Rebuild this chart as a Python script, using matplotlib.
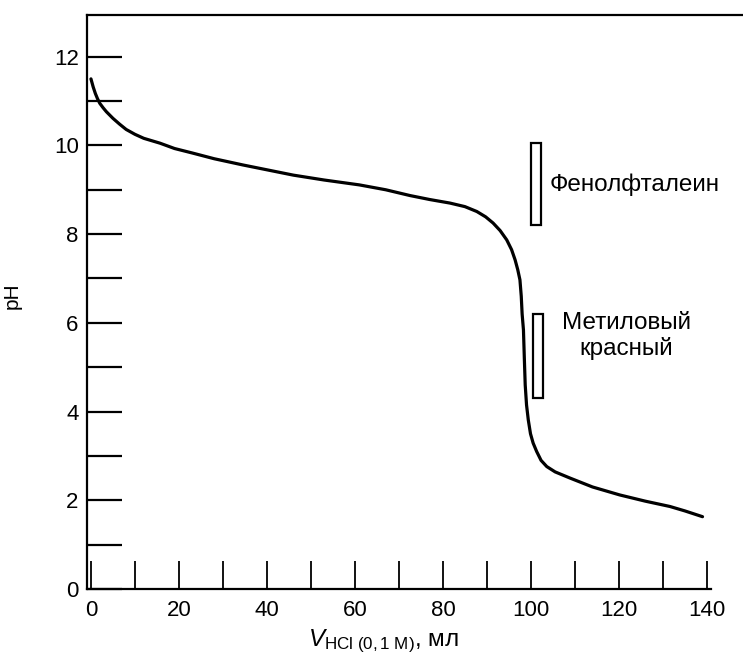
import matplotlib
matplotlib.use("Agg")
import matplotlib.pyplot as plt
from matplotlib.patches import Rectangle

plt.rcParams["font.family"] = ["Liberation Sans", "DejaVu Sans"]
plt.rcParams["mathtext.fontset"] = "custom"
plt.rcParams["mathtext.rm"] = "Liberation Sans"
plt.rcParams["mathtext.it"] = "Liberation Sans:italic"

# Titration curve: volume of 0.1 M HCl (ml) vs pH
volume_ml = [0, 0.5, 1, 1.5, 2, 2.75, 3.5, 5, 6.5, 8, 10, 12, 15.7, 19, 23, 28,
             34.5, 40, 46, 53, 61, 67, 72.5, 77, 81.6, 85, 87.7, 89.7, 91.4, 93,
             94.5, 95.6, 96.4, 97, 97.5, 97.8, 98.0, 98.3, 98.5, 98.7, 99.0,
             99.4, 99.9, 100.5, 101.3, 102.3, 103.6, 105.5, 108.9, 114, 120.2,
             126, 131.6, 135, 139]
ph_values = [11.5, 11.32, 11.17, 11.05, 10.95, 10.85, 10.76, 10.61, 10.48,
             10.36, 10.25, 10.16, 10.05, 9.93, 9.83, 9.7, 9.56, 9.45, 9.33, 9.22,
             9.11, 9.0, 8.87, 8.78, 8.70, 8.62, 8.51, 8.39, 8.25, 8.08, 7.87,
             7.65, 7.42, 7.2, 6.97, 6.6, 6.2, 5.84, 5.2, 4.6, 4.15, 3.81, 3.5,
             3.29, 3.1, 2.9, 2.76, 2.64, 2.5, 2.3, 2.12, 1.98, 1.86, 1.76, 1.63]

# Indicator transition ranges
indicator_names = ["Фенолфталеин", "Метиловый\nкрасный"]
indicator_low = [8.2, 4.3]
indicator_high = [10.05, 6.2]

x_ticks_major = [0, 20, 40, 60, 80, 100, 120, 140]
y_ticks_major = [0, 2, 4, 6, 8, 10, 12]

fig = plt.figure(figsize=(7.43, 6.64), dpi=100)
ax = fig.add_axes([87 / 743, 75 / 664, 1 - 87 / 743, (589 - 15) / 664])
ax.set_xlim(-0.9, 148.2)
ax.set_ylim(0, 12.94)

ax.plot(volume_ml, ph_values, color="black", lw=2.3, solid_capstyle="round",
        solid_joinstyle="round")

# Indicator bars
bar_x = [100.0, 100.5]
bar_w = 2.3
for lo, hi, bx in zip(indicator_low, indicator_high, bar_x):
    ax.add_patch(Rectangle((bx, lo), bar_w, hi - lo, facecolor="white",
                           edgecolor="black", lw=1.6))

# Indicator labels
ax.text(104.3, 9.12, indicator_names[0], fontsize=17.5, ha="left", va="center")
ax.text(121.7, 5.7, indicator_names[1], fontsize=17.5, ha="center", va="center",
        multialignment="center", linespacing=1.15)

# Spines: left, top and a bottom line up to the last tick
ax.spines["right"].set_visible(False)
for s in ("left", "top", "bottom"):
    ax.spines[s].set_linewidth(1.6)
ax.spines["bottom"].set_bounds(-0.9, 141)

ax.set_xticks(x_ticks_major)
ax.set_xticks(range(10, 150, 20), minor=True)
ax.set_yticks(y_ticks_major)
ax.set_yticks(range(1, 13, 2), minor=True)
ax.tick_params(axis="x", which="both", direction="in", length=20, width=1.3,
               labelsize=16, pad=8)
ax.tick_params(axis="y", which="both", direction="in", length=25, width=1.6,
               labelsize=16, pad=6)

ax.set_ylabel("pH", fontsize=15)
ax.yaxis.set_label_coords(-(87 - 22) / (743 - 87), (589 - 296) / (589 - 15))
ax.set_xlabel(r"$V_{\mathrm{HCl\ (0,1\ M)}}$, мл", fontsize=17.5)
ax.xaxis.set_label_coords((384 - 87) / (743 - 87), -(641 - 589) / (589 - 15))
ax.xaxis.label.set_va("center")

fig.savefig("out.png", dpi=100)
